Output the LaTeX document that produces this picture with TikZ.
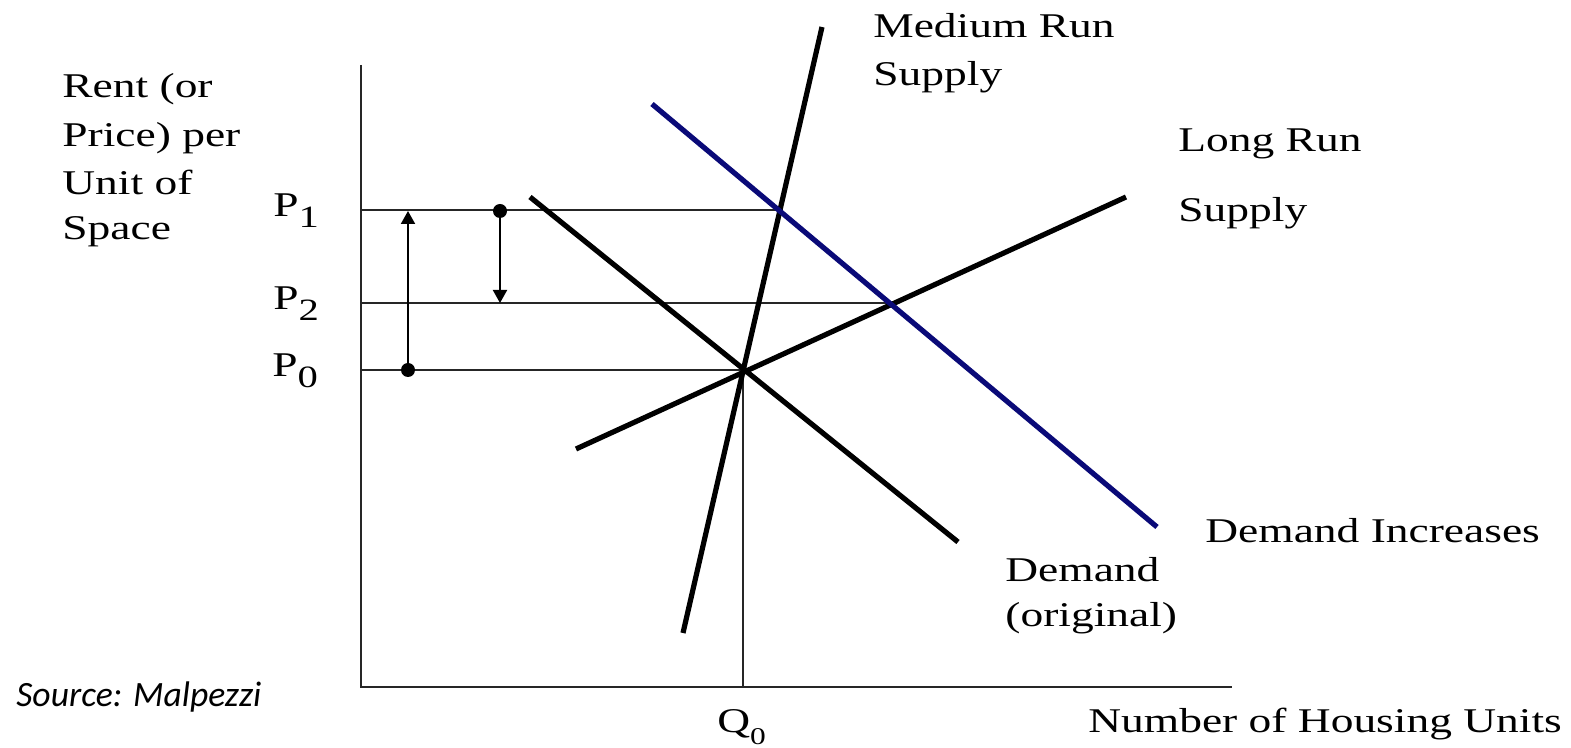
\documentclass[tikz,border=0pt]{standalone}
\usepackage{fontspec}
\setmainfont[FakeStretch=1.31]{Liberation Serif}
\newfontfamily\srcfont{Carlito Italic}
\usetikzlibrary{arrows.meta}
\definecolor{navyline}{RGB}{10,10,120}
\newcommand\lowsub[1]{\raisebox{-5.5pt}{\fontsize{15.5}{15.5}\selectfont #1}}
\newcommand\smallsub[1]{\raisebox{-6pt}{\fontsize{12}{12}\selectfont #1}}
\tikzset{
  thinline/.style={line width=1pt, black!85},
  thickline/.style={line width=2.6pt, black},
  lbl/.style={anchor=base west, inner sep=0pt, font=\fontsize{17.35}{20}\selectfont},
  srclbl/.style={anchor=base west, inner sep=0pt, font=\srcfont\fontsize{17.8}{20}\selectfont},
  tip/.style={-{Triangle[length=6.5pt,width=7pt]}},
}
\begin{document}
\begin{tikzpicture}[x=0.5pt,y=-0.5pt]
\useasboundingbox (0,0) rectangle (1571,748);
% axes
\coordinate (O) at (361,687);
\coordinate (ytop) at (361,65);
\coordinate (xend) at (1232,687);
\draw[thinline] (ytop) -- (O) -- (xend);
% key points
\coordinate (E) at (743,370);
\coordinate (Q0b) at (743,687);
\coordinate (P1a) at (361,210);
\coordinate (P1b) at (780,210);
\coordinate (P2a) at (361,303);
\coordinate (P2b) at (891,303);
\coordinate (P0a) at (361,370);
% guide lines
\draw[thinline] (P1a) -- (P1b);
\draw[thinline] (P2a) -- (P2b);
\draw[thinline] (P0a) -- (E);
\draw[thinline] (E) -- (Q0b);
% curves
\coordinate (MRs) at (683,633);
\coordinate (MRe) at (822,27);
\coordinate (LRs) at (576,449);
\coordinate (LRe) at (1126,197);
\coordinate (Ds) at (530,197);
\coordinate (De) at (958,542);
\coordinate (DIs) at (652,104);
\coordinate (DIe) at (1157,527);
\draw[thickline] (MRs) -- (MRe);
\draw[thickline] (LRs) -- (LRe);
\draw[thickline] (Ds) -- (De);
\draw[thickline, navyline] (DIs) -- (DIe);
% arrows
\coordinate (A1s) at (408,370);
\coordinate (A1e) at (408,211);
\coordinate (A2s) at (500,211);
\coordinate (A2e) at (500,303);
\fill (A1s) circle (3.5pt);
\fill (A2s) circle (3.5pt);
\draw[thinline, black, tip] (A1s) -- (A1e);
\draw[thinline, black, tip] (A2s) -- (A2e);
% labels
\node[lbl] (r1) at (62,98) {Rent (or};
\node[lbl] (r2) at (62,147) {Price) per};
\node[lbl] (r3) at (62,195) {Unit of};
\node[lbl] (r4) at (62,240) {Space};
\node[lbl] (p1) at (273,217) {P\lowsub{1}};
\node[lbl] (p2) at (273,310) {P\lowsub{2}};
\node[lbl] (p0) at (272,377) {P\lowsub{0}};
\node[lbl] (mr1) at (873,38) {Medium Run};
\node[lbl] (mr2) at (873,86) {Supply};
\node[lbl] (lr1) at (1178,152) {Long Run};
\node[lbl] (lr2) at (1178,222) {Supply};
\node[lbl] (di) at (1205,543) {Demand Increases};
\node[lbl] (do1) at (1005,582) {Demand};
\node[lbl] (do2) at (1005,627) {(original)};
\node[lbl] (xl) at (1088,733) {Number of Housing Units};
\node[lbl] (q0) at (717,733) {Q\smallsub{0}};
\node[srclbl] (src) at (16,707) {Source: Malpezzi};
\end{tikzpicture}
\end{document}
